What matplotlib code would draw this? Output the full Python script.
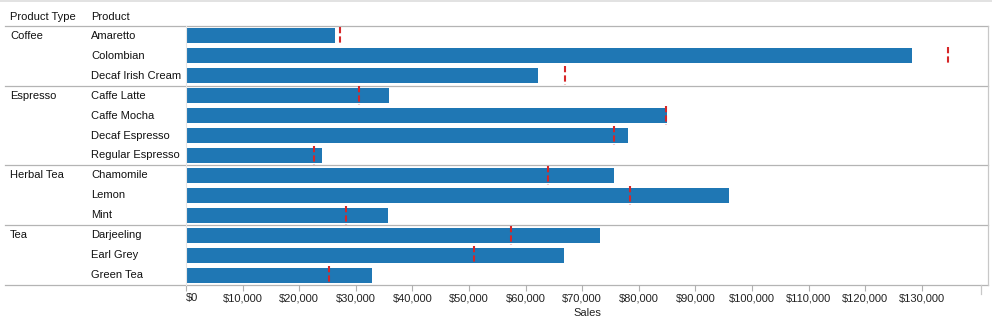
import matplotlib
matplotlib.use("Agg")
import matplotlib.pyplot as plt
import matplotlib.transforms as mtransforms
from matplotlib.ticker import FuncFormatter

plt.rcParams['font.family'] = ['Liberation Sans', 'DejaVu Sans']

# データ
product_types = ["Coffee", "Espresso", "Herbal Tea", "Tea"]
products = [
    ["Amaretto", "Colombian", "Decaf Irish Cream"],
    ["Caffe Latte", "Caffe Mocha", "Decaf Espresso", "Regular Espresso"],
    ["Chamomile", "Lemon", "Mint"],
    ["Darjeeling", "Earl Grey", "Green Tea"],
]
sales = [26269, 128311, 62248, 35899, 84904, 78162, 24031,
         75578, 95926, 35710, 73151, 66772, 32850]
targets = [27200, 134600, 67000, 30560, 84800, 75700, 22600,
           63950, 78400, 28270, 57350, 50880, 25270]

W, H = 992, 326
fig = plt.figure(figsize=(W / 100, H / 100), dpi=100)
left, right, top, bottom = 186, 988, 26, 285
ax = fig.add_axes([left / W, 1 - bottom / H, (right - left) / W, (bottom - top) / H])

names = [p for grp in products for p in grp]
n = len(names)
rows = list(range(n))

ax.barh(rows, sales, height=0.75, color="#1f77b4", zorder=2)
ax.vlines(targets, [r - 0.47 for r in rows], [r + 0.47 for r in rows],
          colors="#d62728", linewidth=1.5, linestyles=(0, (3, 1.5)), zorder=3)

ax.set_ylim(n - 0.5, -0.5)
ax.set_xlim(0, 141700)
ax.set_yticks([])
ax.set_xticks(range(0, 140000, 10000))
ax.xaxis.set_major_formatter(FuncFormatter(lambda v, p: "${:,.0f}".format(v)))
ax.tick_params(axis="x", length=4, color="#b0b0b0", labelsize=8, pad=2, labelcolor="#222222")
ax.get_xticklabels()[0].set_horizontalalignment("left")
ax.set_xlabel("Sales", fontsize=8, color="#222222", labelpad=3)

for s in ["top", "bottom", "right"]:
    ax.spines[s].set_visible(False)
ax.spines["left"].set_color("#e6e6e6")
ax.spines["left"].set_linewidth(0.8)

# 左側のテーブル部分
trans = mtransforms.blended_transform_factory(fig.transFigure, ax.transData)
fig.text(10 / W, 1 - 17 / H, "Product Type", fontsize=8, va="center", color="#111111")
fig.text(91 / W, 1 - 17 / H, "Product", fontsize=8, va="center", color="#111111")

i = 0
bounds = [-0.5]
for t, grp in zip(product_types, products):
    ax.text(10 / W, i, t, transform=trans, fontsize=8, va="center", color="#111111")
    for p in grp:
        ax.text(91 / W, i, p, transform=trans, fontsize=8, va="center", color="#111111")
        i += 1
    bounds.append(i - 0.5)

for b in bounds:
    ax.plot([5 / W, right / W], [b, b], transform=trans, color="#b4b4b4",
            linewidth=0.9, clip_on=False, zorder=1)

# 右端の枠線と最後の目盛り
ax.plot([right / W, right / W], [-0.5, n - 0.5], transform=trans, color="#c8c8c8",
        linewidth=0.9, clip_on=False)
ax.plot([981 / W, 981 / W], [n - 0.5, n - 0.05], transform=trans, color="#c8c8c8",
        linewidth=0.9, clip_on=False)

# 画像上端の薄い枠
fig.add_artist(plt.Line2D([0, 1], [1 - 0.5 / H, 1 - 0.5 / H], transform=fig.transFigure,
                          color="#dddddd", linewidth=1.2))

fig.savefig("out.png", dpi=100)
